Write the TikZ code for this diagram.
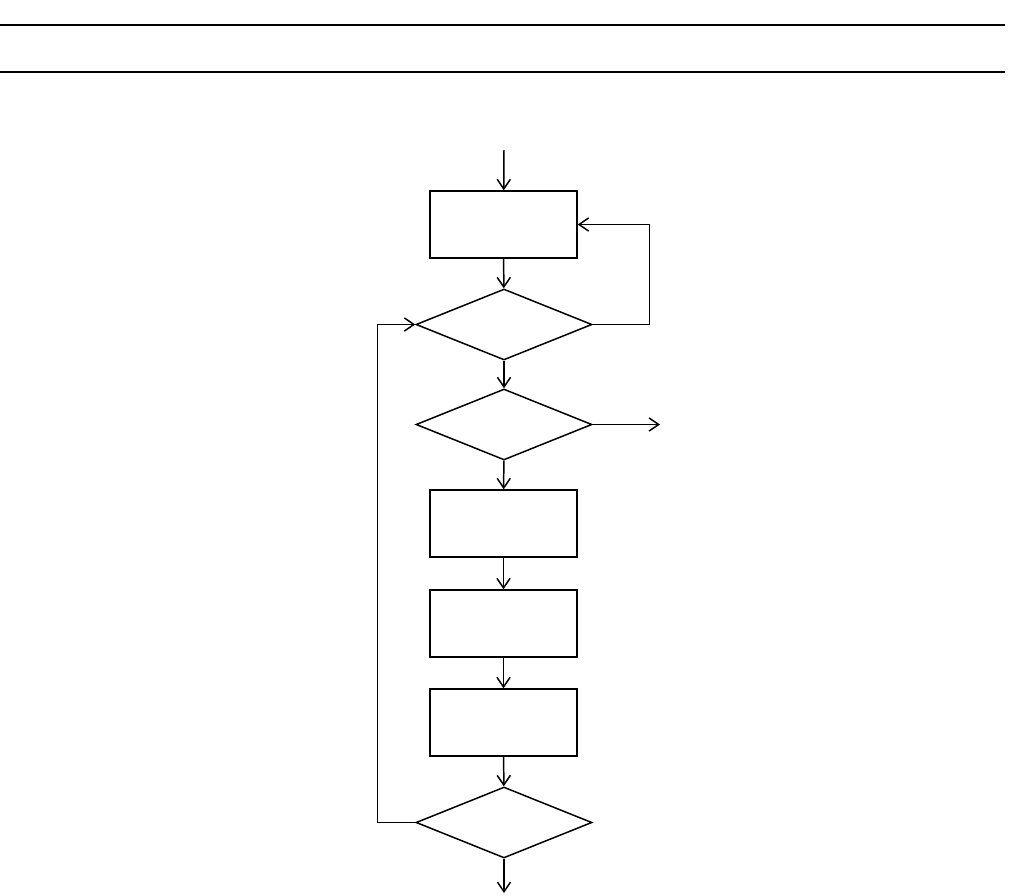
\documentclass[tikz,border=0pt]{standalone}
\usetikzlibrary{arrows.meta,shapes.geometric}
\begin{document}
\begin{tikzpicture}[x=0.02cm, y=-0.02cm,
    procbox/.style={rectangle, draw, line width=0.85pt, minimum width=2.94cm,
      minimum height=1.34cm, inner sep=0pt},
    decide/.style={diamond, draw, line width=0.85pt, minimum width=3.52cm,
      minimum height=1.42cm, inner sep=0pt},
    rulel/.style={line width=1.2pt},
    arr/.style={-{Straight Barb[length=5.5pt,width=7.5pt]}, line width=0.85pt}
  ]
    \useasboundingbox (0,0) rectangle (1009,896);
    % Rules at the top
    \draw[rulel] (0,25) -- (1005,25);
    \draw[rulel] (0,72) -- (1005,72);
    % Boxes and decisions
    \node[procbox] (b1) at (503.5,224.5) {};
    \node[decide] (d1) at (504,324.5) {};
    \node[decide] (d2) at (504,424.5) {};
    \node[procbox] (b2) at (503.5,523.5) {};
    \node[procbox] (b3) at (503.5,623.5) {};
    \node[procbox] (b4) at (503.5,722.5) {};
    \node[decide] (d4) at (504,822.5) {};
    % Free ends
    \coordinate (start) at (504,150);
    \coordinate (out) at (660,424.5);
    \coordinate (stop) at (504,893);
    % Arrows
    \draw[arr] (start) -- (b1);
    \draw[arr] (b1) -- (d1);
    \draw[arr] (d1) -- (d2);
    \draw[arr] (d2) -- (b2);
    \draw[arr] (b2) -- (b3);
    \draw[arr] (b3) -- (b4);
    \draw[arr] (b4) -- (d4);
    \draw[arr] (d4) -- (stop);
    \draw[arr] (d2.east) -- (out);
    % Loops
    \draw[arr] (d1.east) -- ++(57,0) |- (b1.east);
    \draw[arr] (d4.west) -- ++(-38,0) |- (d1.west);
  \end{tikzpicture}
\end{document}
